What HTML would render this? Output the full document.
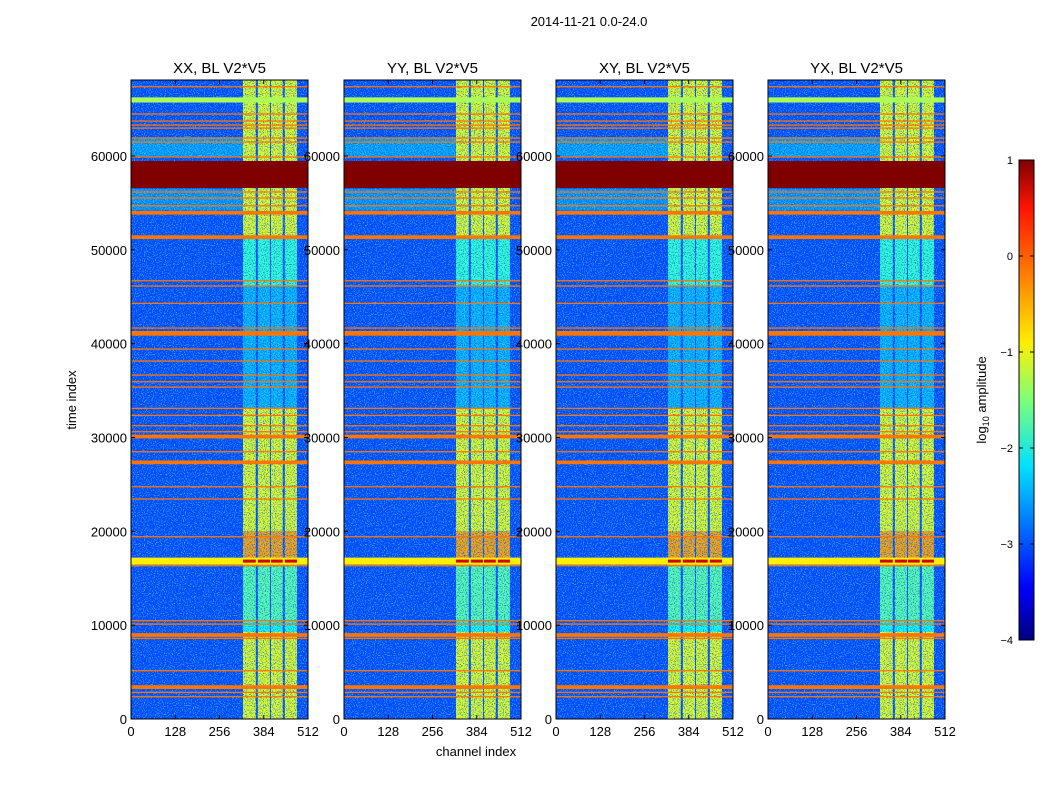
<!DOCTYPE html>
<html><head><meta charset="utf-8">
<style>
body{margin:0;background:#fff;}
svg{display:block;font-family:"Liberation Sans",sans-serif;}
</style></head>
<body>
<svg id="fig" width="1050" height="800" viewBox="0 0 1050 800">
<defs>
<filter id="nz" x="0" y="0" width="100%" height="100%">
<feTurbulence type="fractalNoise" baseFrequency="0.9" numOctaves="1" seed="3" result="t"/>
<feColorMatrix in="t" type="matrix" values="0 0 0 0 0.1  0 0 0 0 0.75  0 0 0 0 1  8 0 0 0 -4.2"/>
</filter>
<filter id="nz2" x="0" y="0" width="100%" height="100%">
<feTurbulence type="fractalNoise" baseFrequency="0.9" numOctaves="1" seed="8" result="t"/>
<feColorMatrix in="t" type="matrix" values="0 0 0 0 0  0 0 0 0 0.05  0 0 0 0 0.7  8 0 0 0 -4.2"/>
</filter>
<linearGradient id="jet" x1="0" y1="1" x2="0" y2="0">
<stop offset="0" stop-color="#00007f"/><stop offset="0.11" stop-color="#0000ff"/>
<stop offset="0.36" stop-color="#00e0ff"/><stop offset="0.5" stop-color="#7dff7a"/>
<stop offset="0.62" stop-color="#ffee00"/><stop offset="0.8" stop-color="#ff6000"/>
<stop offset="0.9" stop-color="#ff1400"/><stop offset="1" stop-color="#7f0000"/>
</linearGradient>
</defs>
<text x="589" y="26" font-size="13" text-anchor="middle">2014-11-21 0.0-24.0</text>
<g id="panels"></g>
<g>
<rect x="1019" y="160" width="15" height="480" fill="url(#jet)" stroke="#000" stroke-width="1"/>
<g id="cbticks"></g>
<text transform="translate(986,400) rotate(-90)" font-size="13" text-anchor="middle">log<tspan font-size="9" dy="3">10</tspan><tspan dy="-3"> amplitude</tspan></text>
</g>
<text transform="translate(76,400) rotate(-90)" font-size="13" text-anchor="middle">time index</text>
<text x="476" y="756" font-size="13" text-anchor="middle">channel index</text>
</svg>
<script>
const panelTitles = ["XX, BL V2*V5","YY, BL V2*V5","XY, BL V2*V5","YX, BL V2*V5"];
const xTicks = [0,128,256,384,512];
const yTicks = [0,10000,20000,30000,40000,50000,60000];
const cbTicks = [1,0,-1,-2,-3,-4];
const tMax = 68100;
const bgLevel = -3.0;
const thinLines = [67390,64480,63730,63300,62980,61920,61490,59900,56170,55530,54700,46710,46150,44300,41670,39430,38150,36660,35950,35380,33110,32360,31260,30620,28490,24760,23450,19430,16340,10480,10120,8600,5150,2840,2380];
const thickBands = [[54150,53750],[51550,51150],[41350,40850],[30300,29900],[27550,27150],[9150,8750],[3600,3200]];
const maroonBand = [59470,56590];
const topBand = [66250,65700];
const yellowBand = [17200,16450];
const cyanZones = [[62000,59950,-2.3],[56500,54200,-2.4]];
const colStart = [324,367,405,445];
const colEnd = [361,402,439,480];
const colSegStart = [68100,51300,46150,33100,20000,16300,10500,9300];
const colSegEnd = [51300,46150,33100,20000,16300,10500,9300,0];
const colSegLevel = [-1.0,-1.9,-2.5,-1.0,-0.4,-1.7,-2.1,-1.0];
const panelX0 = [131,344,556,768];

function jet(l){const n=Math.max(0,Math.min(1,(l+4)/5));
 const c=v=>Math.round(255*Math.max(0,Math.min(1,1.5-Math.abs(v))));
 return `rgb(${c(4*n-3)},${c(4*n-2)},${c(4*n-1)})`;}
const NS="http://www.w3.org/2000/svg";
function el(tag,attrs,parent){const e=document.createElementNS(NS,tag);for(const k in attrs)e.setAttribute(k,attrs[k]);parent.appendChild(e);return e;}
const W=177,Y0=719,Y1=80;
const ys=t=>Y0-t/tMax*(Y0-Y1);
const root=document.getElementById('panels');
panelX0.forEach((x0,p)=>{
 const xs=ch=>x0+ch/512*W;
 const g=el('g',{},root);
 
 
 const bg=el('rect',{x:x0,y:Y1,width:W,height:Y0-Y1,fill:jet(bgLevel)},g);
 
 
 cyanZones.forEach(z=>{const r=el('rect',{x:xs(0),y:ys(z[0]),width:xs(colStart[0])-xs(0),height:ys(z[1])-ys(z[0]),fill:jet(z[2]),opacity:0.6},g);
  
  });
 colStart.forEach((c,i)=>{colSegLevel.forEach((lv,j)=>{
  const r=el('rect',{x:xs(c),y:ys(colSegStart[j]),width:xs(colEnd[i])-xs(c),height:ys(colSegEnd[j])-ys(colSegStart[j]),fill:jet(lv)},g);
  
  });});
 el('rect',{x:x0,y:Y1,width:W,height:Y0-Y1,filter:'url(#nz)',opacity:0.6},g);
 el('rect',{x:x0,y:Y1,width:W,height:Y0-Y1,filter:'url(#nz2)',opacity:0.6},g);
 thinLines.forEach(t=>{const r=el('rect',{x:x0,y:ys(t)-0.6,width:W,height:1.3,fill:jet(-0.2)},g);
  
  });
 thickBands.forEach(b=>{const r=el('rect',{x:x0,y:ys(b[0]),width:W,height:ys(b[1])-ys(b[0]),fill:jet(-0.2)},g);
  
  });
 const tb=el('rect',{x:x0,y:ys(topBand[0]),width:W,height:ys(topBand[1])-ys(topBand[0]),fill:jet(-1.3)},g);
 
 
 const yb=el('rect',{x:x0,y:ys(yellowBand[0]),width:W,height:ys(yellowBand[1])-ys(yellowBand[0]),fill:jet(-0.8)},g);
 
 
 colStart.forEach((c,i)=>{const r=el('rect',{x:xs(c),y:ys(yellowBand[0])+2,width:xs(colEnd[i])-xs(c),height:3,fill:jet(0.6)},g);
  
  });
 const mb=el('rect',{x:x0,y:ys(maroonBand[0]),width:W,height:ys(maroonBand[1])-ys(maroonBand[0]),fill:jet(1)},g);
 
 
 el('rect',{x:x0,y:Y1,width:W,height:Y0-Y1,fill:'none',stroke:'#000','stroke-width':1},g);
 const tt=el('text',{x:x0+W/2,y:73,'font-size':15,'text-anchor':'middle'},g);tt.textContent=panelTitles[p];
 
 
 xTicks.forEach(v=>{const x=xs(v);el('line',{x1:x,x2:x,y1:Y0,y2:Y0-4,stroke:'#000'},g);el('line',{x1:x,x2:x,y1:Y1,y2:Y1+4,stroke:'#000'},g);
  const t=el('text',{x:x,y:Y0+17,'font-size':13,'text-anchor':'middle'},g);t.textContent=v;
  
  });
 yTicks.forEach(v=>{const y=ys(v);el('line',{x1:x0,x2:x0+4,y1:y,y2:y,stroke:'#000'},g);el('line',{x1:x0+W,x2:x0+W-4,y1:y,y2:y,stroke:'#000'},g);
  const t=el('text',{x:x0-4,y:y+5,'font-size':13,'text-anchor':'end'},g);t.textContent=v;
  
  });
});
const cb=document.getElementById('cbticks');
cbTicks.forEach(v=>{const y=160+(1-v)*96;
 el('line',{x1:1019,x2:1023,y1:y,y2:y,stroke:'#000'},cb);el('line',{x1:1030,x2:1034,y1:y,y2:y,stroke:'#000'},cb);
 const t=el('text',{x:1013,y:y+4,'font-size':11,'text-anchor':'end'},cb);t.textContent=v<0?'\u2212'+(-v):v;
 
 });
</script>
</body></html>
